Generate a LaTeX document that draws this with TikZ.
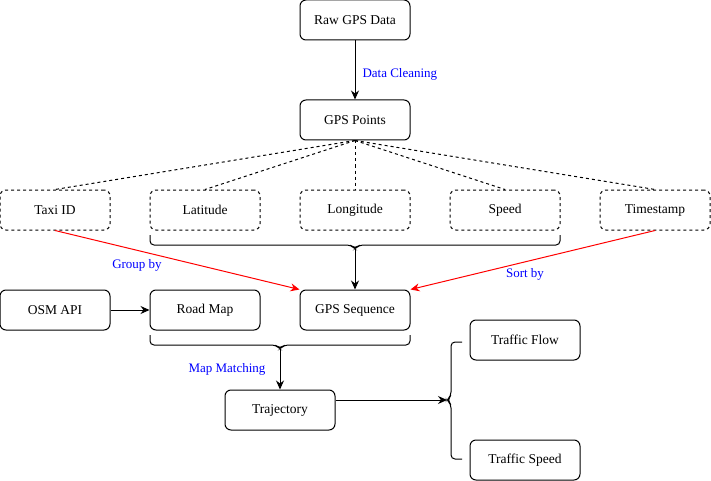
\documentclass[tikz,border=0pt]{standalone}
\usepackage{fontspec}
\setmainfont{Liberation Serif}
\usetikzlibrary{arrows.meta}
\tikzset{
  box/.style={draw, rounded corners=6pt, minimum width=110pt, minimum height=40pt, inner sep=2pt, font=\fontsize{13.5}{15}\selectfont},
  dbox/.style={box, dashed},
  lbl/.style={text=blue, font=\fontsize{13}{15}\selectfont, inner sep=0pt},
  arr/.style={-{Stealth[length=9pt,width=8pt]}},
  brc/.style={rounded corners=4pt},
}
\begin{document}
\begin{tikzpicture}[x=1pt,y=-1pt,line width=1pt]
\useasboundingbox (0,0) rectangle (711,481);
\node[box] (raw) at (355,20){Raw GPS Data};
\node[box] (pts) at (355,120){GPS Points};
\node[dbox] (taxi) at (55,210){Taxi ID};
\node[dbox] (lat) at (205,210){Latitude};
\node[dbox] (lon) at (355,210){Longitude};
\node[dbox] (spd) at (505,210){Speed};
\node[dbox] (time) at (655,210){Timestamp};
\node[box] (osm) at (55,310){OSM API};
\node[box] (road) at (205,310){Road Map};
\node[box] (seq) at (355,310){GPS Sequence};
\node[box] (traj) at (280,410){Trajectory};
\node[box] (flow) at (525,340){Traffic Flow};
\node[box] (tspd) at (525,460){Traffic Speed};
\coordinate (b1l) at (150,235);
\coordinate (b1r) at (560,235);
\coordinate (b1t) at (355,249);
\coordinate (b2l) at (150,335);
\coordinate (b2r) at (410,335);
\coordinate (b2t) at (280,349);
\coordinate (b3b) at (462,459);
\coordinate (b3t) at (462,342);
\coordinate (b3m) at (447,400);
\draw[arr] (raw) -- (pts);
\node[lbl, anchor=west] (clean) at (362,74){Data Cleaning};
\draw[dashed] (pts.south) -- (taxi.north);
\draw[dashed] (pts.south) -- (lat.north);
\draw[dashed] (pts.south) -- (lon.north);
\draw[dashed] (pts.south) -- (spd.north);
\draw[dashed] (pts.south) -- (time.north);
\draw[brc] (b1l) |- ([xshift=-4pt,yshift=4pt]b1t) -- (b1t) -- ([xshift=4pt,yshift=4pt]b1t) -| (b1r);
\draw[arr] (b1t) -- (seq.north);
\draw[arr, red] (taxi.south) -- (seq.north west);
\node[lbl] (grp) at (137,265){Group by};
\draw[arr, red] (time.south) -- (seq.north east);
\node[lbl] (srt) at (525,274){Sort by};
\draw[arr] (osm) -- (road);
\draw[brc] (b2l) |- ([xshift=-4pt,yshift=4pt]b2t) -- (b2t) -- ([xshift=4pt,yshift=4pt]b2t) -| (b2r);
\draw[arr] (b2t) -- (traj.north);
\node[lbl] (mm) at (227,369){Map Matching};
\draw[brc] (b3t) -| ([xshift=4pt,yshift=4pt]b3m) -- (b3m) -- ([xshift=4pt,yshift=-4pt]b3m) |- (b3b);
\draw[arr] ([yshift=10pt]traj.east) -- (b3m);
\end{tikzpicture}
\end{document}
